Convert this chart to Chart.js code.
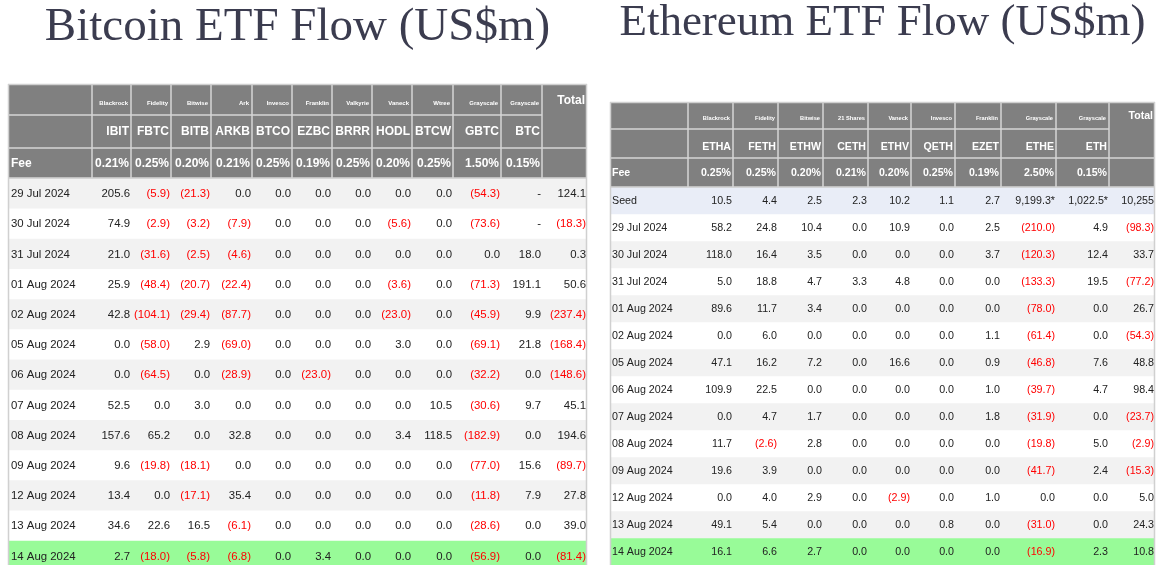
<!DOCTYPE html>
<html><head><meta charset="utf-8">
<script src="https://cdn.jsdelivr.net/npm/chart.js@4.4.1/dist/chart.umd.min.js"></script>
<style>
html,body{margin:0;padding:0;background:#fff;width:1158px;height:565px;overflow:hidden}
#btc{position:absolute;left:0;top:0}
#eth{position:absolute;left:600px;top:0}
</style></head><body>
<canvas id="btc" width="600" height="565"></canvas>
<canvas id="eth" width="558" height="565"></canvas>
<script>
// ---------------- DATA: Bitcoin ----------------
const btcTitle = 'Bitcoin ETF Flow (US$m)';
const btcIssuers = ['Blackrock','Fidelity','Bitwise','Ark','Invesco','Franklin','Valkyrie','Vaneck','Wtree','Grayscale','Grayscale'];
const btcTickers = ['IBIT','FBTC','BITB','ARKB','BTCO','EZBC','BRRR','HODL','BTCW','GBTC','BTC'];
const btcFees = ['0.21%','0.25%','0.20%','0.21%','0.25%','0.19%','0.25%','0.20%','0.25%','1.50%','0.15%'];
const btcDates = ['29 Jul 2024','30 Jul 2024','31 Jul 2024','01 Aug 2024','02 Aug 2024','05 Aug 2024','06 Aug 2024','07 Aug 2024','08 Aug 2024','09 Aug 2024','12 Aug 2024','13 Aug 2024','14 Aug 2024'];
const btcIBIT = [205.6, 74.9, 21.0, 25.9, 42.8, 0.0, 0.0, 52.5, 157.6, 9.6, 13.4, 34.6, 2.7];
const btcFBTC = [-5.9, -2.9, -31.6, -48.4, -104.1, -58.0, -64.5, 0.0, 65.2, -19.8, 0.0, 22.6, -18.0];
const btcBITB = [-21.3, -3.2, -2.5, -20.7, -29.4, 2.9, 0.0, 3.0, 0.0, -18.1, -17.1, 16.5, -5.8];
const btcARKB = [0.0, -7.9, -4.6, -22.4, -87.7, -69.0, -28.9, 0.0, 32.8, 0.0, 35.4, -6.1, -6.8];
const btcBTCO = [0.0, 0.0, 0.0, 0.0, 0.0, 0.0, 0.0, 0.0, 0.0, 0.0, 0.0, 0.0, 0.0];
const btcEZBC = [0.0, 0.0, 0.0, 0.0, 0.0, 0.0, -23.0, 0.0, 0.0, 0.0, 0.0, 0.0, 3.4];
const btcBRRR = [0.0, 0.0, 0.0, 0.0, 0.0, 0.0, 0.0, 0.0, 0.0, 0.0, 0.0, 0.0, 0.0];
const btcHODL = [0.0, -5.6, 0.0, -3.6, -23.0, 3.0, 0.0, 0.0, 3.4, 0.0, 0.0, 0.0, 0.0];
const btcBTCW = [0.0, 0.0, 0.0, 0.0, 0.0, 0.0, 0.0, 10.5, 118.5, 0.0, 0.0, 0.0, 0.0];
const btcGBTC = [-54.3, -73.6, 0.0, -71.3, -45.9, -69.1, -32.2, -30.6, -182.9, -77.0, -11.8, -28.6, -56.9];
const btcBTC  = [null, null, 18.0, 191.1, 9.9, 21.8, 0.0, 9.7, 0.0, 15.6, 7.9, 0.0, 0.0];
const btcTotal = [124.1, -18.3, 0.3, 50.6, -237.4, -168.4, -148.6, 45.1, 194.6, -89.7, 27.8, 39.0, -81.4];

// ---------------- DATA: Ethereum ----------------
const ethTitle = 'Ethereum ETF Flow (US$m)';
const ethIssuers = ['Blackrock','Fidelity','Bitwise','21 Shares','Vaneck','Invesco','Franklin','Grayscale','Grayscale'];
const ethTickers = ['ETHA','FETH','ETHW','CETH','ETHV','QETH','EZET','ETHE','ETH'];
const ethFees = ['0.25%','0.25%','0.20%','0.21%','0.20%','0.25%','0.19%','2.50%','0.15%'];
const ethSeed = [10.5, 4.4, 2.5, 2.3, 10.2, 1.1, 2.7, 9199.3, 1022.5];
const ethSeedNote = ['','','','','','','','*','*'];
const ethSeedTotal = 10255;
const ethDates = ['29 Jul 2024','30 Jul 2024','31 Jul 2024','01 Aug 2024','02 Aug 2024','05 Aug 2024','06 Aug 2024','07 Aug 2024','08 Aug 2024','09 Aug 2024','12 Aug 2024','13 Aug 2024','14 Aug 2024'];
const ethETHA = [58.2, 118.0, 5.0, 89.6, 0.0, 47.1, 109.9, 0.0, 11.7, 19.6, 0.0, 49.1, 16.1];
const ethFETH = [24.8, 16.4, 18.8, 11.7, 6.0, 16.2, 22.5, 4.7, -2.6, 3.9, 4.0, 5.4, 6.6];
const ethETHW = [10.4, 3.5, 4.7, 3.4, 0.0, 7.2, 0.0, 1.7, 2.8, 0.0, 2.9, 0.0, 2.7];
const ethCETH = [0.0, 0.0, 3.3, 0.0, 0.0, 0.0, 0.0, 0.0, 0.0, 0.0, 0.0, 0.0, 0.0];
const ethETHV = [10.9, 0.0, 4.8, 0.0, 0.0, 16.6, 0.0, 0.0, 0.0, 0.0, -2.9, 0.0, 0.0];
const ethQETH = [0.0, 0.0, 0.0, 0.0, 0.0, 0.0, 0.0, 0.0, 0.0, 0.0, 0.0, 0.8, 0.0];
const ethEZET = [2.5, 3.7, 0.0, 0.0, 1.1, 0.9, 1.0, 1.8, 0.0, 0.0, 1.0, 0.0, 0.0];
const ethETHE = [-210.0, -120.3, -133.3, -78.0, -61.4, -46.8, -39.7, -31.9, -19.8, -41.7, 0.0, -31.0, -16.9];
const ethETH  = [4.9, 12.4, 19.5, 0.0, 0.0, 7.6, 4.7, 0.0, 5.0, 2.4, 0.0, 0.0, 2.3];
const ethTotal = [-98.3, 33.7, -77.2, 26.7, -54.3, 48.8, 98.4, -23.7, -2.9, -15.3, 5.0, 24.3, 10.8];

// ---------------- STYLE / LAYOUT ----------------
const SANS = '"Liberation Sans", Arial, Helvetica, sans-serif';
const SERIF = '"Liberation Serif", "Times New Roman", serif';
const C = {head:'#808080', grid:'#d6d6d6', outer:'#d0d0d0', stripe:'#f2f2f2', white:'#ffffff',
           green:'#98fb98', seed:'#e9edf7', text:'#222222', neg:'#ff0000', headText:'#ffffff', title:'#3b3c4f'};

function fmt(v){
  if (v === null || v === undefined) return {t:'-', c:C.text};
  if (v < 0) return {t:'(' + Math.abs(v).toFixed(1) + ')', c:C.neg};
  return {t:v.toFixed(1), c:C.text};
}
function fmtSeed(v, note){
  return {t:v.toLocaleString('en-US',{minimumFractionDigits:1,maximumFractionDigits:1}) + (note||''), c:C.text};
}

function buildTable(canvasId, spec, L){
  const W = L.colW.reduce((a,b)=>a+b,0);
  const edges=[0]; L.colW.forEach(w=>edges.push(edges[edges.length-1]+w));
  const rows = spec.body;
  const rowH = L.headerH.concat(rows.map(()=>L.dataH));
  const rowEdges=[0]; rowH.forEach(h=>rowEdges.push(rowEdges[rowEdges.length-1]+h));
  const rowBg = [C.head,C.head,C.head].concat(rows.map(r=>r.bg));
  const datasets = rowH.map((h,i)=>({
    label:'row'+i,
    data:[[rowEdges[i], rowEdges[i+1]]],
    backgroundColor:rowBg[i],
    borderWidth:0, borderSkipped:false,
    grouped:false, barPercentage:1, categoryPercentage:1
  }));
  const nCols = edges.length-1;
  const textPlugin = {
    id:'tableText_'+canvasId,
    afterDatasetsDraw(chart){
      const ctx=chart.ctx, xs=chart.scales.xc, ys=chart.scales.y;
      const X=v=>xs.getPixelForValue(v), Y=v=>ys.getPixelForValue(v);
      const Yc=r=>Y((rowEdges[r]+rowEdges[r+1])/2);
      const line=(x1,y1,x2,y2)=>{ctx.beginPath();ctx.moveTo(x1,y1);ctx.lineTo(x2,y2);ctx.stroke();};
      const txt=(s,x,y,al,font,col)=>{ctx.font=font;ctx.fillStyle=col;ctx.textAlign=al;ctx.textBaseline='middle';ctx.fillText(s,x,y);};
      ctx.save();
      // header grid
      ctx.strokeStyle=C.grid; ctx.lineWidth=L.gridW;
      const hb=rowEdges[3];
      for(let c=1;c<nCols;c++) line(X(edges[c]),Y(0),X(edges[c]),Y(hb));
      for(let r=1;r<=3;r++){
        const xe = r===1 ? edges[nCols-1] : W;
        line(X(0),Y(rowEdges[r]),X(xe),Y(rowEdges[r]));
      }
      // outer border
      ctx.strokeStyle=C.outer; ctx.lineWidth=1.5;
      line(X(0)+0.5,Y(0),X(0)+0.5,Y(L.yMax));
      line(X(W)-0.5,Y(0),X(W)-0.5,Y(L.yMax));
      line(X(0),Y(0)+0.5,X(W),Y(0)+0.5);
      // header text
      const fIss='bold '+L.issSize+'px '+SANS, fHead='bold '+L.headSize+'px '+SANS, fBody=L.bodySize+'px '+SANS;
      spec.issuers.forEach((s,i)=>txt(s, X(edges[i+2])-L.issPad, Yc(0)+L.issDy,'right',fIss,C.headText));
      txt('Total', X(W)-L.hPad, Yc(0)+L.totalDy,'right',fHead,C.headText);
      spec.tickers.forEach((s,i)=>txt(s, X(edges[i+2])-L.hPad, Yc(1)+L.tickDy,'right',fHead,C.headText));
      txt('Fee', X(0)+L.padL, Yc(2)+L.feeDy,'left',fHead,C.headText);
      spec.fees.forEach((s,i)=>txt(s, X(edges[i+2])-L.hPad, Yc(2)+L.feeDy,'right',fHead,C.headText));
      // body
      rows.forEach((row,k)=>{
        const r=k+3, yc=Yc(r)+L.bodyDy;
        txt(row.label, X(0)+L.padL, yc,'left',fBody,C.text);
        row.cells.forEach((cell,i)=>txt(cell.t, X(edges[i+2])-L.dPad, yc,'right',fBody,cell.c));
      });
      ctx.restore();
    }
  };
  return new Chart(document.getElementById(canvasId),{
    type:'bar',
    data:{labels:['table'], datasets},
    options:{
      responsive:false, animation:false, devicePixelRatio:1, events:[],
      layout:{padding:{left:L.padLeft,right:L.padRight,top:0,bottom:0}},
      plugins:{
        legend:{display:false}, tooltip:{enabled:false},
        title:{display:true,text:spec.title,color:C.title,align:'center',
          font:{family:SERIF,size:L.titleSize,weight:'normal',lineHeight:L.titleLH},
          padding:{top:L.titlePadTop,bottom:L.titlePadBottom}}
      },
      scales:{
        x:{type:'category',display:false,offset:true},
        xc:{type:'linear',axis:'x',position:'bottom',display:false,offset:false,grace:0,min:0,max:W},
        y:{type:'linear',display:false,reverse:true,offset:false,grace:0,min:0,max:L.yMax}
      }
    },
    plugins:[textPlugin]
  });
}

// ---------- assemble Bitcoin ----------
const btcCols = [btcIBIT,btcFBTC,btcBITB,btcARKB,btcBTCO,btcEZBC,btcBRRR,btcHODL,btcBTCW,btcGBTC,btcBTC];
const btcBody = btcDates.map((d,r)=>({
  label:d,
  cells:btcCols.map(col=>fmt(col[r])).concat([fmt(btcTotal[r])]),
  bg: r===btcDates.length-1 ? C.green : (r%2===0 ? C.stripe : C.white)
}));
buildTable('btc',{title:btcTitle,issuers:btcIssuers,tickers:btcTickers,fees:btcFees,body:btcBody},{
  colW:[84,39,40,40,41,40,40,40,40,41,48,41,45],
  headerH:[31,33,30], dataH:30.2, yMax:481,
  padLeft:8, padRight:13,
  titleSize:47, titleLH:1, titlePadTop:4.6, titlePadBottom:32.4,
  gridW:1.5, issSize:6, headSize:12, bodySize:11.4,
  issPad:3, hPad:2, dPad:1, padL:3,
  issDy:4, totalDy:1, tickDy:0.5, feeDy:0.5, bodyDy:1
});

// ---------- assemble Ethereum ----------
const ethCols = [ethETHA,ethFETH,ethETHW,ethCETH,ethETHV,ethQETH,ethEZET,ethETHE,ethETH];
const ethBody = [{
  label:'Seed',
  cells:ethSeed.map((v,i)=>fmtSeed(v,ethSeedNote[i])).concat([{t:ethSeedTotal.toLocaleString('en-US'),c:C.text}]),
  bg:C.seed
}].concat(ethDates.map((d,r)=>({
  label:d,
  cells:ethCols.map(col=>fmt(col[r])).concat([fmt(ethTotal[r])]),
  bg: r===ethDates.length-1 ? C.green : (r%2===0 ? C.white : C.stripe)
})));
buildTable('eth',{title:ethTitle,issuers:ethIssuers,tickers:ethTickers,fees:ethFees,body:ethBody},{
  colW:[78,45,45,45,45,43,44,46,55,53,46],
  headerH:[27,29,29], dataH:27, yMax:463,
  padLeft:10, padRight:3,
  titleSize:45, titleLH:0.8, titlePadTop:5.3, titlePadBottom:60.7,
  gridW:1.5, issSize:5.7, headSize:10.6, bodySize:10.7,
  issPad:3, hPad:2, dPad:1, padL:2,
  issDy:3, totalDy:0.5, tickDy:4, feeDy:1, bodyDy:0.5
});
</script>
</body></html>
